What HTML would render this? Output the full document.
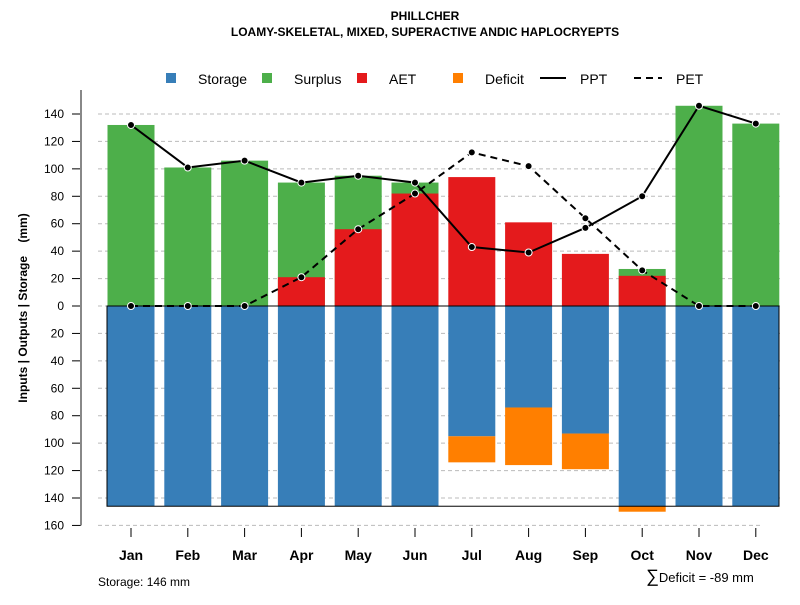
<!DOCTYPE html>
<html><head><meta charset="utf-8"><style>
body{margin:0;background:#fff}
svg text{font-family:"Liberation Sans",sans-serif}
</style></head><body>
<svg id="c" width="800" height="600" xmlns="http://www.w3.org/2000/svg">
<text x="425" y="20" text-anchor="middle" font-size="12" font-weight="bold">PHILLCHER</text>
<text x="425" y="36" text-anchor="middle" font-size="12" font-weight="bold">LOAMY-SKELETAL, MIXED, SUPERACTIVE ANDIC HAPLOCRYEPTS</text>
<g id="legend">
<rect x="166" y="73" width="10" height="10" fill="#377eb8"/>
<text x="198" y="84" font-size="14">Storage</text>
<rect x="262" y="73" width="10" height="10" fill="#4daf4a"/>
<text x="294" y="84" font-size="14">Surplus</text>
<rect x="357" y="73" width="10" height="10" fill="#e41a1c"/>
<text x="389" y="84" font-size="14">AET</text>
<rect x="453" y="73" width="10" height="10" fill="#ff7f00"/>
<text x="485" y="84" font-size="14">Deficit</text>
<line x1="540" y1="78" x2="566" y2="78" stroke="#000" stroke-width="2"/>
<text x="580" y="84" font-size="14">PPT</text>
<line x1="634" y1="78" x2="662" y2="78" stroke="#000" stroke-width="2" stroke-dasharray="7,5"/>
<text x="676" y="84" font-size="14">PET</text>
</g>
<text transform="translate(27,308) rotate(-90)" text-anchor="middle" font-size="12" font-weight="bold" style="white-space:pre">Inputs | Outputs | Storage    (mm)</text>
<text x="98" y="586" font-size="12">Storage: 146 mm</text>
<text x="646" y="582" font-size="13"><tspan font-size="18">∑</tspan>Deficit = -89 mm</text>
</svg>
<script>
const months=["Jan","Feb","Mar","Apr","May","Jun","Jul","Aug","Sep","Oct","Nov","Dec"];
const ppt=[132,101,106,90,95,90,43,39,57,80,146,133];
const pet=[0,0,0,21,56,82,112,102,64,26,0,0];
const aet=[0,0,0,21,56,82,94,61,38,22,0,0];
const surplusTop=[132,101,106,90,95,90,0,0,0,27,146,133];
const storage=[146,146,146,146,146,146,95,74,93,146,146,146];
const deficit=[0,0,0,0,0,0,19,42,26,4,0,0];
const yTicks=[140,120,100,80,60,40,20,0,20,40,60,80,100,120,140,160];
const yVals=[140,120,100,80,60,40,20,0,-20,-40,-60,-80,-100,-120,-140,-160];
const svg=document.getElementById('c');
const NS="http://www.w3.org/2000/svg";
const y=v=>306-v*192/140;
const x=i=>131+i*56.8;
const bw=47;
function mk(t,a,p){const e=document.createElementNS(NS,t);for(const k in a)e.setAttribute(k,a[k]);(p||svg).appendChild(e);return e;}
const g=mk('g',{});


yVals.forEach((v,i)=>{
  const l=mk('line',{x1:98,x2:v==-160?760:780,y1:y(v),y2:y(v),stroke:'#bbb','stroke-dasharray':'4,3'},g);
  
  
  const t=mk('line',{x1:72,x2:81,y1:y(v),y2:y(v),stroke:'#000'},g);
  
  
  const tx=mk('text',{x:64,y:y(v)+4,'text-anchor':'end','font-size':12},g);tx.textContent=yTicks[i];
  
  
});
const ax=mk('line',{x1:81,x2:81,y1:90,y2:y(-160),stroke:'#888','stroke-width':2},g);


months.forEach((m,i)=>{
  const cx=x(i),L=cx-bw/2;
  if(surplusTop[i]>0){const r=mk('rect',{x:L,y:y(surplusTop[i]),width:bw,height:y(0)-y(surplusTop[i]),fill:'#4daf4a'},g);
    
    }
  if(aet[i]>0){const r=mk('rect',{x:L,y:y(aet[i]),width:bw,height:y(0)-y(aet[i]),fill:'#e41a1c'},g);
    
    }
  const s=mk('rect',{x:L,y:y(0),width:bw,height:y(-storage[i])-y(0),fill:'#377eb8'},g);
  
  
  if(deficit[i]>0){const r=mk('rect',{x:L,y:y(-storage[i]),width:bw,height:y(-storage[i]-deficit[i])-y(-storage[i]),fill:'#ff7f00'},g);
    
    }
  const t=mk('line',{x1:cx,x2:cx,y1:528,y2:537,stroke:'#000'},g);
  
  
  const tx=mk('text',{x:cx,y:560,'text-anchor':'middle','font-size':14,'font-weight':'bold'},g);tx.textContent=m;
  
  
});
const box=mk('rect',{x:107,y:y(0),width:672,height:y(-146)-y(0),fill:'none',stroke:'#000'},g);


function line(arr,name,dash){
  const p=mk('polyline',{points:arr.map((v,i)=>x(i)+','+y(v)).join(' '),fill:'none',stroke:'#000','stroke-width':2,'stroke-dasharray':dash||'none'},g);
  
  
  arr.forEach((v,i)=>{const c=mk('circle',{cx:x(i),cy:y(v),r:3.5,fill:'#000',stroke:'#fff','stroke-width':1},g);
    
    });
}
line(pet,'pet','7,5');
line(ppt,'ppt');
</script>
</body></html>
